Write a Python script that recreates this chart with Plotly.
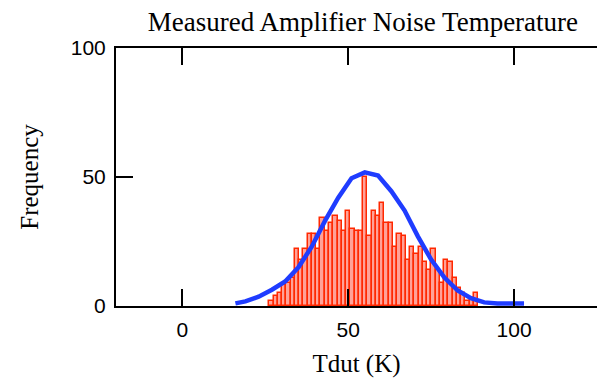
import plotly.graph_objects as go

# ---- data ----
bin_start = 26.2          # left edge of first histogram bin (K)
bin_width = 1.286         # histogram bin width (K)
counts = [2, 4, 5, 8, 9, 11, 22, 18, 22, 28, 28, 22, 34, 29, 32, 35, 33, 29, 37, 30,
          29, 29, 50, 27, 37, 35, 40, 32, 32, 23, 28, 27, 18, 23, 20, 23, 17, 14, 22, 14,
          9, 18, 17, 11, 7, 5, 2, 3, 5]

fit_x = [16, 19, 23, 27, 31, 35, 39, 43, 47, 51, 55, 59, 63, 67, 71, 75, 79, 83, 87, 91, 95, 99, 103]
fit_y = [1, 1.8, 3.6, 6.3, 9.5, 15, 23, 33, 42, 49.5, 51.8, 50.6, 44.5, 37, 27, 18, 11, 6, 3, 1.4, 1, 1, 1]

x_ticks = [0, 50, 100]
y_ticks = [0, 50, 100]

title_text = "Measured Amplifier Noise Temperature"
x_title = "Tdut (K)"
y_title = "Frequency"

bin_centers = [bin_start + bin_width * (i + 0.5) for i in range(len(counts))]

serif = "Liberation Serif, Times New Roman, serif"
sans = "Liberation Sans, Arial, sans-serif"

fig = go.Figure()
fig.add_trace(go.Bar(
    x=bin_centers, y=counts, width=bin_width,
    marker=dict(color="rgba(255,70,50,0.5)", line=dict(color="rgb(255,40,0)", width=1.5)),
    showlegend=False,
))
fig.add_trace(go.Scatter(
    x=fit_x, y=fit_y, mode="lines",
    line=dict(color="#1f3cff", width=4.5),
    showlegend=False,
))

fig.update_layout(
    width=597, height=378,
    margin=dict(l=116, r=0, t=48, b=72),
    paper_bgcolor="white", plot_bgcolor="white",
    bargap=0,
    title=dict(text=title_text, x=0.608, xanchor="center", y=0.942, yanchor="middle",
               font=dict(family=serif, size=27, color="black")),
)
fig.update_xaxes(
    range=[-20, 125], tickvals=x_ticks, ticktext=[str(v) for v in x_ticks],
    ticks="inside", ticklen=17, tickwidth=2, tickcolor="black",
    showline=True, linewidth=2, linecolor="black", mirror="allticks",
    showgrid=False, zeroline=False,
    tickfont=dict(family=sans, size=21, color="black"),
    ticklabelstandoff=4,
    title=dict(text=x_title, font=dict(family=serif, size=25, color="black"), standoff=16),
)
fig.update_yaxes(
    range=[0, 100], tickvals=y_ticks, ticktext=[str(v) for v in y_ticks],
    ticks="inside", ticklen=17, tickwidth=2, tickcolor="black",
    showline=True, linewidth=2, linecolor="black", mirror=False,
    showgrid=False, zeroline=False,
    tickfont=dict(family=sans, size=21, color="black"),
    ticklabelstandoff=4,
    title=dict(text=y_title, font=dict(family=serif, size=25, color="black"), standoff=25),
)

fig.write_html("out.html")
